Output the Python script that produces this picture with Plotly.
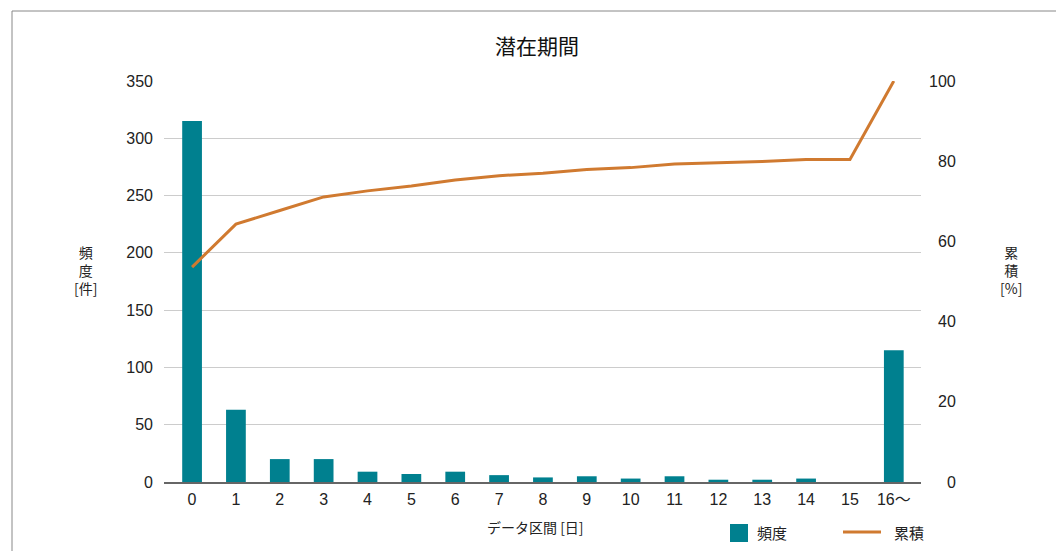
import plotly.graph_objects as go

# Incubation period distribution (days) with cumulative share
categories = ["0", "1", "2", "3", "4", "5", "6", "7", "8", "9",
              "10", "11", "12", "13", "14", "15", "16〜"]
frequency = [315, 63, 20, 20, 9, 7, 9, 6, 4, 5, 3, 5, 2, 2, 3, 0, 115]
cumulative_pct = [53.6, 64.3, 67.7, 71.1, 72.6, 73.8, 75.3, 76.4, 77.0,
                  77.9, 78.4, 79.3, 79.6, 79.9, 80.4, 80.4, 100.0]
left_ticks = [0, 50, 100, 150, 200, 250, 300, 350]
right_ticks = [0, 20, 40, 60, 80, 100]

W, H = 1056, 551
L, R, T, B = 164, 135, 81, 69
PW, PH = W - L - R, H - T - B


def px_x(x):
    return (x - L) / PW


def px_y(y):
    return (H - B - y) / PH


BAR = "#00808f"
LINE = "#d07a30"
FONT = "Liberation Sans, Arial, Noto Sans CJK JP, sans-serif"
CJK = "Noto Sans CJK JP, sans-serif"

fig = go.Figure()
fig.add_trace(go.Bar(
    x=categories, y=frequency, name="頻度", showlegend=False,
    marker=dict(color=BAR, line=dict(width=0)), width=0.45,
))
fig.add_trace(go.Scatter(
    x=categories, y=cumulative_pct, name="累積", yaxis="y2", showlegend=False,
    mode="lines", line=dict(color=LINE, width=3),
))


def label(x, y, text, size, xanchor="center", yref="paper", font=CJK):
    return dict(x=x, y=y, xref="paper", yref=yref, text=text,
                xanchor=xanchor, yanchor="middle", showarrow=False,
                font=dict(family=font, size=size, color="#222"))


annotations = []
# right-hand percentage labels, right aligned
for v in right_ticks:
    annotations.append(label(px_x(958), v, str(v), 16, xanchor="right",
                             yref="y2", font=FONT))
annotations += [
    label(px_x(85), px_y(270), "頻<br>度<br>[件]", 14),
    label(px_x(1011), px_y(270), "累<br>積<br>[%]", 14),
    label(px_x(535), px_y(527), "データ区間 [日]", 14),
    # legend entries
    label(px_x(755), px_y(532), "頻度", 15, xanchor="left"),
    label(px_x(892), px_y(532), "累積", 15, xanchor="left"),
]

shapes = [
    # outer frame
    dict(type="rect", xref="paper", yref="paper",
         x0=px_x(12), x1=px_x(1080), y0=px_y(580), y1=px_y(11),
         line=dict(color="#888888", width=1), layer="below"),
    # legend key: bar swatch
    dict(type="rect", xref="paper", yref="paper",
         x0=px_x(730), x1=px_x(748), y0=px_y(542), y1=px_y(524),
         fillcolor=BAR, line=dict(width=0)),
    # legend key: line sample
    dict(type="line", xref="paper", yref="paper",
         x0=px_x(843), x1=px_x(881), y0=px_y(532), y1=px_y(532),
         line=dict(color=LINE, width=3)),
]

fig.update_layout(
    width=W, height=H,
    margin=dict(l=L, r=R, t=T, b=B, autoexpand=False),
    paper_bgcolor="white", plot_bgcolor="white",
    title=dict(text="潜在期間", x=px_x(537), xref="paper", xanchor="center",
               y=1 - 47 / H, yref="container", yanchor="middle",
               font=dict(family=CJK, size=21, color="#111")),
    xaxis=dict(type="category", range=[-0.64, 16.62],
               showline=True, linecolor="#666", linewidth=2,
               showgrid=False, ticks="", ticklabelstandoff=2,
               tickfont=dict(family=FONT, size=16, color="#222")),
    yaxis=dict(range=[0, 350], tickvals=left_ticks,
               showgrid=True, gridcolor="#cccccc", gridwidth=1,
               zeroline=False, showline=False, ticks="",
               ticklabelstandoff=10,
               tickfont=dict(family=FONT, size=16, color="#222")),
    yaxis2=dict(range=[0, 100], overlaying="y", side="right",
                tickvals=right_ticks, showticklabels=False,
                showgrid=False, zeroline=False, showline=False),
    showlegend=False,
    annotations=annotations,
    shapes=shapes,
)

fig.write_html("out.html")
